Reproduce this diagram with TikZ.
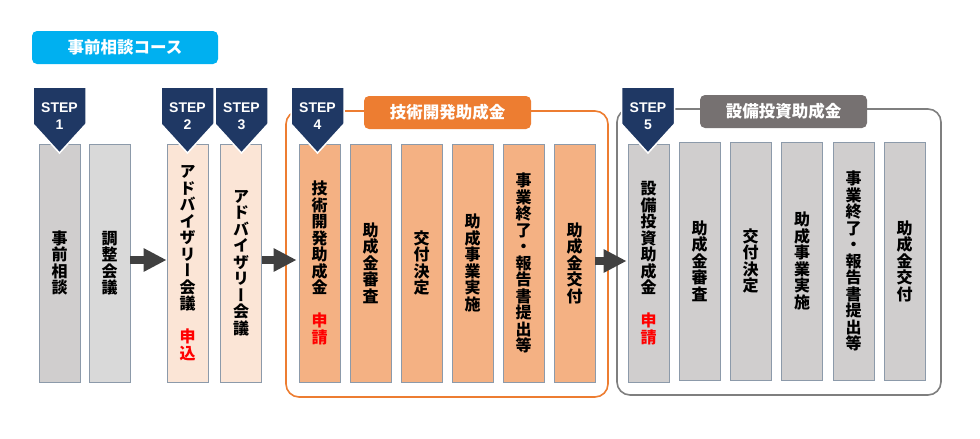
\documentclass[tikz,border=0pt]{standalone}
\usepackage{fontspec}
\setmainfont{Liberation Sans}
\newfontfamily\jp[RawFeature=+vert]{Noto Sans CJK JP}
\newfontfamily\jph{Noto Sans CJK JP}
\usetikzlibrary{arrows.meta,calc}
\definecolor{navy}{HTML}{1F3864}
\definecolor{cyanbox}{HTML}{00B0F0}
\definecolor{orangeline}{HTML}{ED7D31}
\definecolor{grayline}{HTML}{7F7F7F}
\definecolor{graytitle}{HTML}{767171}
\definecolor{barline}{HTML}{8C9AAA}
\definecolor{grayA}{HTML}{D0CECE}
\definecolor{grayB}{HTML}{D9D9D9}
\definecolor{pinkbar}{HTML}{FBE5D6}
\definecolor{orangebar}{HTML}{F4B183}
\definecolor{arrowgray}{HTML}{404040}
\definecolor{redtext}{HTML}{FF0000}
\newcommand{\stepbadge}[3]{%
  \fill[navy, draw=white, line width=1.5pt] (#2-26.5,87) -- (#2+26.5,87) -- (#2+26.5,124) -- (#2,153) -- (#2-26.5,124) -- cycle;
  \node[steptext] (#1) at (#2,116) {STEP\\#3};}
\begin{document}
\begin{tikzpicture}[x=1pt,y=-1pt,
  bar/.style={draw=barline, line width=0.8pt, minimum width=41pt, minimum height=238pt, inner sep=0pt, align=center,
    font=\jp\bfseries\fontsize{16}{16.5}\selectfont, text=black},
  graybar/.style={bar, fill=grayA},
  pinkbar/.style={bar, fill=pinkbar},
  orbar/.style={bar, fill=orangebar},
  steptext/.style={text=white, align=center, inner sep=0pt, font=\bfseries\fontsize{14}{17}\selectfont},
  titlebox/.style={rounded corners=5pt, minimum height=33pt, inner sep=0pt, text=white,
    font=\jph\bfseries\fontsize{16.5}{18}\selectfont},
  container/.style={rounded corners=13pt, line width=1.6pt},
  blockarrow/.style={draw=arrowgray, line width=7.5pt, -{Triangle[length=23pt,width=22pt]}}
]
\useasboundingbox (0,0) rectangle (980,439);
\fill[white] (0,0) rectangle (980,439);

% containers
\draw[container, orangeline] (286,111) rectangle (608,397);
\draw[container, grayline] (617,109) rectangle (941,395);

% titles
\node[titlebox, fill=cyanbox, minimum width=186pt] (t0) at (125,47.5) {事前相談コース};
\node[titlebox, fill=orangeline, minimum width=167pt] (t1) at (447.5,112.5) {技術開発助成金};
\node[titlebox, fill=graytitle, minimum width=167pt] (t2) at (783.5,111.5) {設備投資助成金};

% bars
\def\rd#1{\textcolor{redtext}{#1}}
\node[graybar] (b1) at (59.5,263) {事\\前\\相\\談};
\node[bar, fill=grayB] (b2) at (109.5,263) {調\\整\\会\\議};
\node[pinkbar] (b3) at (187.5,263) {ア\\ド\\バ\\イ\\ザ\\リ\\ー\\会\\議\\[16.5pt]\rd{申}\\\rd{込}};
\node[pinkbar] (b4) at (241,263) {ア\\ド\\バ\\イ\\ザ\\リ\\ー\\会\\議};

\node[orbar] (o1) at (319.5,263) {技\\術\\開\\発\\助\\成\\金\\[16.5pt]\rd{申}\\\rd{請}};
\node[orbar] (o2) at (370.5,263) {助\\成\\金\\審\\査};
\node[orbar] (o3) at (421.5,263) {交\\付\\決\\定};
\node[orbar] (o4) at (472.5,263) {助\\成\\事\\業\\実\\施};
\node[orbar] (o5) at (523.5,263) {事\\業\\終\\了\\・\\報\\告\\書\\提\\出\\等};
\node[orbar] (o6) at (574.5,263) {助\\成\\金\\交\\付};

\node[graybar] (g1) at (648.5,263) {設\\備\\投\\資\\助\\成\\金\\[16.5pt]\rd{申}\\\rd{請}};
\node[graybar] (g2) at (699.5,261) {助\\成\\金\\審\\査};
\node[graybar] (g3) at (750.5,261) {交\\付\\決\\定};
\node[graybar] (g4) at (802,261) {助\\成\\事\\業\\実\\施};
\node[graybar] (g5) at (853.5,261) {事\\業\\終\\了\\・\\報\\告\\書\\提\\出\\等};
\node[graybar] (g6) at (904.5,261) {助\\成\\金\\交\\付};

% arrows
\draw[blockarrow] ([yshift=3pt]b2.east) -- ([yshift=3pt]b3.west);
\draw[blockarrow] ([yshift=3pt]b4.east) -- ([yshift=3pt,xshift=-2pt]o1.west);
\draw[blockarrow] ([yshift=2pt]o6.east) -- ([yshift=2pt,xshift=-1pt]g1.west);

% step badges
\stepbadge{s1}{59.5}{1}
\stepbadge{s2}{187.5}{2}
\stepbadge{s3}{241.5}{3}
\stepbadge{s4}{317.5}{4}
\stepbadge{s5}{648}{5}
\end{tikzpicture}
\end{document}
